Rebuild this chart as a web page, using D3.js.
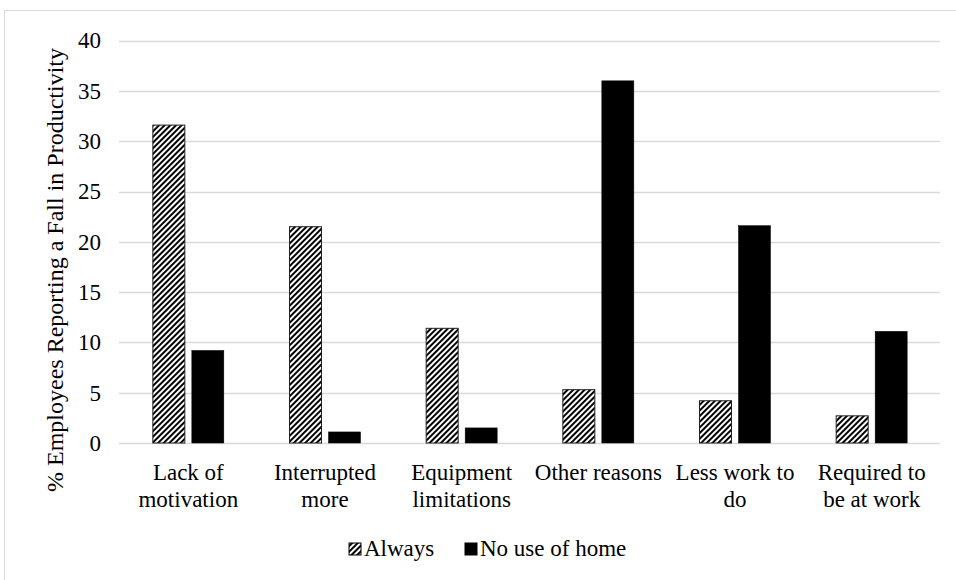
<!DOCTYPE html>
<html><head><meta charset="utf-8">
<script src="https://cdn.jsdelivr.net/npm/d3@7"></script>
<style>body{margin:0;background:#fff}svg{display:block}
text{font-family:"Liberation Serif","Times New Roman","DejaVu Serif",serif;}</style>
</head><body>
<script>
const categories = [["Lack of","motivation"],["Interrupted","more"],["Equipment","limitations"],["Other reasons"],["Less work to","do"],["Required to","be at work"]];
const seriesNames = ["Always","No use of home"];
const always = [31.6, 21.5, 11.4, 5.3, 4.2, 2.7];
const noUse = [9.2, 1.1, 1.5, 36.0, 21.6, 11.1];
const yTicks = [0,5,10,15,20,25,30,35,40];
const yLabel = "% Employees Reporting a Fall in Productivity";

const W=956,H=580,FS=23;
const svg=d3.select("body").append("svg").attr("width",W).attr("height",H);
const defs=svg.append("defs");
const pat=defs.append("pattern").attr("id","hatch").attr("patternUnits","userSpaceOnUse")
  .attr("width",4).attr("height",4).attr("patternTransform","rotate(45)");
pat.append("rect").attr("width",4).attr("height",4).attr("fill","#fff");
pat.append("rect").attr("width",2).attr("height",4).attr("fill","#000");

svg.append("rect").attr("x",4.5).attr("y",10.5).attr("width",980).attr("height",600)
  .attr("fill","#fff").attr("stroke","#d9d9d9");

const x0=d3.scaleBand().domain(d3.range(categories.length)).range([120,940]);
const y=d3.scaleLinear().domain([0,40]).range([443,40.6]);
const barW=32, gap=7;

const g=svg.append("g");
g.selectAll("line.grid").data(yTicks).join("line").attr("class","grid")
  .attr("x1",119).attr("x2",940).attr("y1",d=>Math.round(y(d))+0.5).attr("y2",d=>Math.round(y(d))+0.5)
  .attr("stroke","#d9d9d9").attr("stroke-width",1.3);

const yAxis=d3.axisLeft(y).tickValues(yTicks).tickSize(0).tickPadding(19);
const ya=svg.append("g").attr("transform","translate(120,0)").call(yAxis);
ya.select(".domain").remove();
ya.attr("font-family",null).attr("font-size",null);
ya.selectAll("text").attr("font-size",FS).attr("fill","#000");

const cx=i=>x0(i)+x0.bandwidth()/2;
g.selectAll("rect.a").data(always).join("rect").attr("class","a")
  .attr("x",(d,i)=>cx(i)-gap/2-barW).attr("width",barW)
  .attr("y",d=>y(d)).attr("height",d=>y(0)-y(d))
  .attr("fill","url(#hatch)").attr("stroke","#222").attr("stroke-width",1);
g.selectAll("rect.b").data(noUse).join("rect").attr("class","b")
  .attr("x",(d,i)=>cx(i)+gap/2).attr("width",barW)
  .attr("y",d=>y(d)).attr("height",d=>y(0)-y(d))
  .attr("fill","#000").attr("stroke","#000").attr("stroke-width",0.5);

const xl=svg.append("g");
categories.forEach((lines,i)=>{
  const t=xl.append("text").attr("x",cx(i)).attr("y",480).attr("text-anchor","middle")
    .attr("font-size",FS).attr("fill","#000");
  lines.forEach((l,j)=>t.append("tspan").attr("x",cx(i)).attr("dy",j?26.5:0).text(l));
});

svg.append("text").attr("transform","translate(63,270) rotate(-90)").attr("text-anchor","middle")
  .attr("font-size",24).attr("fill","#000").text(yLabel);

const leg=svg.append("g");
const legItems=[{n:seriesNames[0],f:"url(#hatch)",x:349},{n:seriesNames[1],f:"#000",x:465}];
legItems.forEach(it=>{
  leg.append("rect").attr("x",it.x).attr("y",543).attr("width",12).attr("height",12)
    .attr("fill",it.f).attr("stroke","#000").attr("stroke-width",1);
  leg.append("text").attr("x",it.x+15).attr("y",556).attr("font-size",FS)
    .attr("fill","#000").text(it.n);
});
</script>
</body></html>
